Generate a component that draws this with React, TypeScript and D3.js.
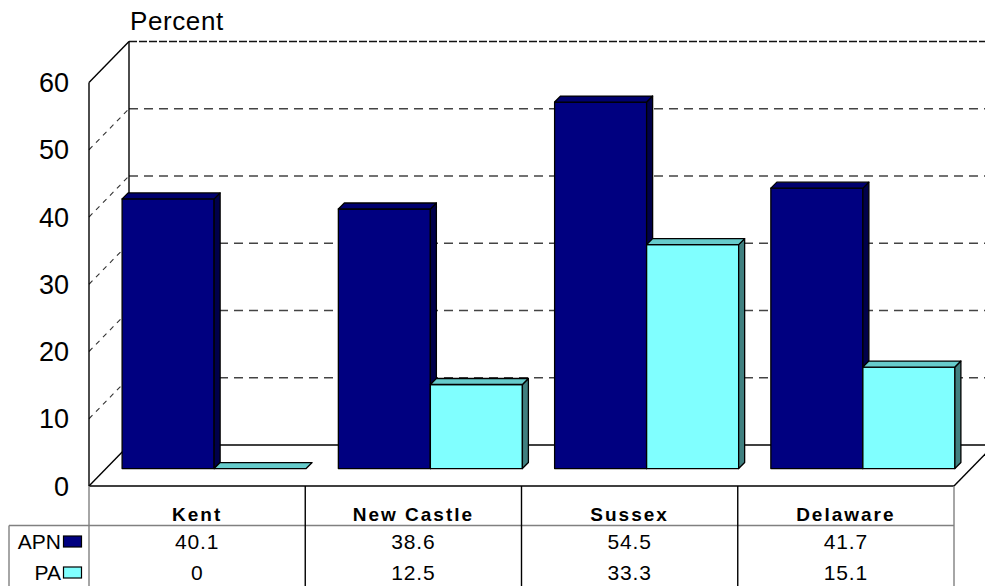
import { useEffect, useRef } from "react";
import * as d3 from "d3";

const categories = ["Kent", "New Castle", "Sussex", "Delaware"];
const seriesNames = ["APN", "PA"];
const apnValues = [40.1, 38.6, 54.5, 41.7];
const paValues = [0, 12.5, 33.3, 15.1];
const yTicks = [0, 10, 20, 30, 40, 50, 60];

const FRONT = { APN: "#000080", PA: "#80FFFF" };
const TOP = { APN: "#00006E", PA: "#66CCCC" };
const SIDE = { APN: "#00004A", PA: "#408080" };

export default function App() {
  const ref = useRef<SVGSVGElement>(null);

  useEffect(() => {
    document.body.style.margin = "0";
    document.body.style.overflow = "hidden";
    if (!ref.current) return;
    const svg = d3.select(ref.current);
    svg.selectAll("*").remove();

    const width = 985;
    const height = 586;
    // front plane of the plot, depth vector to the back wall
    const x0 = 89;
    const x1 = 954;
    const DX = 40;
    const DY = -41;
    const y = d3.scaleLinear().domain([0, 60]).range([486, 82.5]);
    const x = d3.scaleBand<string>().domain(categories).range([x0, x1]);
    const bw = x.bandwidth();
    const gap = 0.35;
    const barW = bw / (2 + gap);
    const f = 0.425; // depth position of bar fronts
    const bd = 6; // bar thickness
    const bx = f * DX;
    const by = f * DY;

    const g = svg.append("g");
    const font = "Arial, 'Liberation Sans', sans-serif";

    const line = (xa: number, ya: number, xb: number, yb: number, stroke = "#000", dash?: string, w = 1.4) =>
      g.append("line")
        .attr("x1", xa).attr("y1", ya).attr("x2", xb).attr("y2", yb)
        .attr("stroke", stroke).attr("stroke-width", w)
        .attr("stroke-dasharray", dash ?? null);

    // gridlines on back wall and side wall
    yTicks.filter((t) => t > 0).forEach((t) => {
      const top = t === 60;
      line(x0 + DX, y(t) + DY, width + 20, y(t) + DY, top ? "#111" : "#444", top ? "8,2" : "9,6", 1.4);
      if (!top) line(x0, y(t), x0 + DX, y(t) + DY, "#333", "5,5", 1.1);
    });
    line(x0, y(60), x0 + DX, y(60) + DY);
    line(x0 + DX, y(60) + DY, x0 + DX, y(0) + DY);
    line(x0, y(60), x0, y(0));
    line(x0 + DX, y(0) + DY, x1 + DX, y(0) + DY);
    line(x0, y(0), x0 + DX, y(0) + DY);
    line(x1, y(0), x1 + DX, y(0) + DY);

    // bars
    const drawBar = (cx: number, v: number, s: "APN" | "PA") => {
      const left = cx + bx;
      const right = left + barW;
      const base = y(0) + by;
      const top = y(v) + by;
      const bars = g.append("g").attr("stroke", "#000").attr("stroke-width", 1.3).attr("stroke-linejoin", "round");
      if (v > 0) {
        bars.append("rect")
          .attr("x", left).attr("y", top).attr("width", barW).attr("height", base - top)
          .attr("fill", FRONT[s]);
        bars.append("path")
          .attr("d", `M${right},${top}L${right + bd},${top - bd}L${right + bd},${base - bd}L${right},${base}Z`)
          .attr("fill", SIDE[s]);
      }
      bars.append("path")
        .attr("d", `M${left},${top}L${left + bd},${top - bd}L${right + bd},${top - bd}L${right},${top}Z`)
        .attr("fill", TOP[s]);
    };

    categories.forEach((c, i) => {
      const start = (x(c) as number) + (bw - 2 * barW) / 2;
      drawBar(start, apnValues[i], "APN");
      drawBar(start + barW, paValues[i], "PA");
    });

    // front floor edge
    line(x0, y(0), x1, y(0));

    // y tick labels
    g.append("g").selectAll("text").data(yTicks).enter().append("text")
      .attr("x", 69).attr("y", (d) => y(d)).attr("dy", "0.36em")
      .attr("text-anchor", "end")
      .style("font-family", font).style("font-size", "27px").attr("fill", "#000")
      .text((d) => d);

    g.append("text")
      .attr("x", 130).attr("y", 30)
      .style("font-family", font).style("font-size", "26px")
      .style("letter-spacing", "0.6px")
      .text("Percent");

    // data table
    const headTop = y(0);
    const headBot = 525.5;
    const rowBase = [549, 580];
    line(x0, headTop, x0, height, "#808080", undefined, 1.4);
    line(9, headBot, x1, headBot, "#808080", undefined, 1.4);
    line(9, headBot, 9, height, "#808080", undefined, 1.4);
    line(x1, headTop, x1, height, "#808080", undefined, 1.4);
    categories.slice(1).forEach((c) => line(x(c) as number, headTop, x(c) as number, height, "#000", undefined, 1.4));

    categories.forEach((c) => {
      g.append("text")
        .attr("x", (x(c) as number) + bw / 2).attr("y", 521)
        .attr("text-anchor", "middle")
        .style("font-family", font).style("font-size", "19px").style("font-weight", "bold")
        .style("letter-spacing", "2px")
        .text(c);
    });

    const rows = [apnValues, paValues];
    seriesNames.forEach((s, r) => {
      g.append("text")
        .attr("x", 61).attr("y", rowBase[r])
        .attr("text-anchor", "end")
        .style("font-family", font).style("font-size", "21px")
        .text(s);
      g.append("rect")
        .attr("x", 63.5).attr("y", rowBase[r] - 13).attr("width", 18).attr("height", 11)
        .attr("fill", FRONT[s as "APN" | "PA"]).attr("stroke", "#000").attr("stroke-width", 1.2);
      rows[r].forEach((v, i) => {
        g.append("text")
          .attr("x", (x(categories[i]) as number) + bw / 2).attr("y", rowBase[r])
          .attr("text-anchor", "middle")
          .style("font-family", font).style("font-size", "21px")
          .style("letter-spacing", "0.8px")
          .text(v);
      });
    });
  }, []);

  return <svg ref={ref} width={985} height={586} style={{ display: "block", background: "#fff" }} />;
}
